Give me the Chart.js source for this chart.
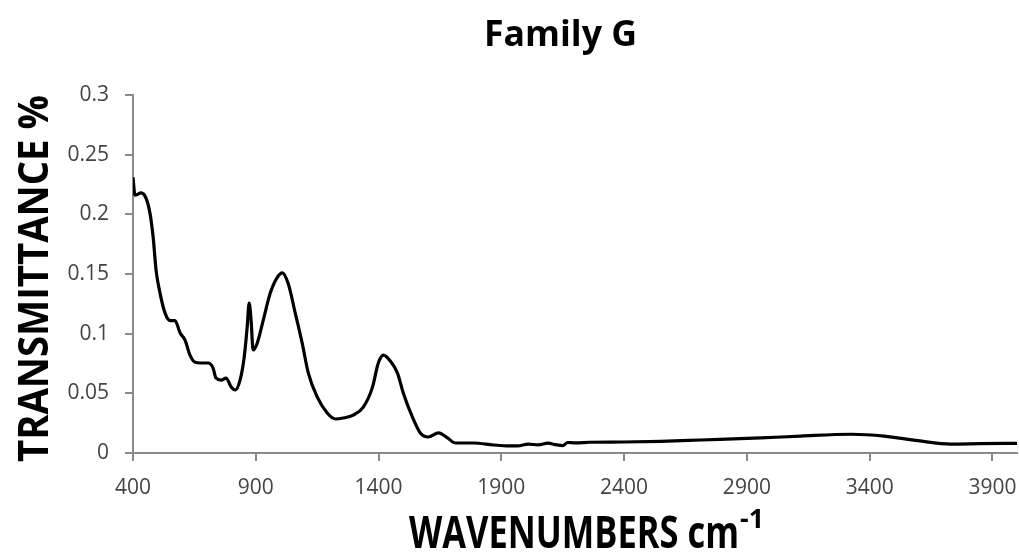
<!DOCTYPE html>
<html>
<head>
<meta charset="utf-8">
<script src="https://cdn.jsdelivr.net/npm/chart.js@4/dist/chart.umd.min.js"></script>
<style>
html,body{margin:0;padding:0;background:#fff;}
#wrap{width:1019px;height:553px;position:relative;}
</style>
</head>
<body>
<div id="wrap"><canvas id="c" width="1019" height="553"></canvas></div>
<script>
const chartTitle = "Family G";
const xTitle = "WAVENUMBERS cm";
const xTitleSup = "-1";
const yTitle = "TRANSMITTANCE %";

const wavenumbers = [400,408,433,453,469,482,494,510,531,551,571,592,612,632,653,677,706,726,738,759,779,800,816,836,853,865,873,881,889,906,930,959,987,1008,1032,1061,1089,1114,1150,1191,1224,1256,1297,1338,1375,1399,1420,1448,1477,1501,1538,1570,1603,1644,1681,1713,1787,1868,1920,1966,2010,2050,2090,2120,2150,2170,2200,2260,2398,2550,2712,2957,3120,3324,3459,3597,3732,3850,4000];
const transmittance = [0.231,0.216,0.218,0.2136,0.201,0.181,0.153,0.134,0.117,0.111,0.111,0.1005,0.0946,0.082,0.076,0.0754,0.0754,0.0712,0.0628,0.0611,0.0628,0.0553,0.0528,0.0611,0.0804,0.1055,0.1256,0.111,0.0863,0.0921,0.111,0.134,0.147,0.151,0.142,0.117,0.092,0.067,0.047,0.0335,0.0285,0.0293,0.0318,0.0385,0.055,0.0754,0.082,0.077,0.067,0.050,0.030,0.0168,0.0134,0.0168,0.0126,0.0084,0.0084,0.0067,0.0060,0.0059,0.0075,0.0068,0.0082,0.0070,0.0062,0.0088,0.0085,0.0090,0.0092,0.0098,0.0109,0.0126,0.0142,0.0157,0.0142,0.0103,0.0075,0.0078,0.0081];

const xTicks = [400,900,1400,1900,2400,2900,3400,3900];
const xTickLabels = ["400","900","1400","1900","2400","2900","3400","3900"];
const yTicks = [0,0.05,0.1,0.15,0.2,0.25,0.3];
const yTickLabels = ["0","0.05","0.1","0.15","0.2","0.25","0.3"];

const points = wavenumbers.map((x,i)=>({x:x,y:transmittance[i]}));

function drawFitted(ctx, text, font, x, y, targetW, align){
  ctx.save();
  ctx.font = font;
  const w = ctx.measureText(text).width;
  const s = targetW / w;
  ctx.translate(x, y);
  ctx.scale(s, 1);
  ctx.textAlign = align || 'left';
  ctx.textBaseline = 'alphabetic';
  ctx.fillText(text, 0, 0);
  ctx.restore();
}

const titlePlugin = {
  id: 'titles',
  afterDraw(chart){
    const ctx = chart.ctx;
    ctx.save();
    ctx.fillStyle = '#000';
    drawFitted(ctx, chartTitle, 'bold 36px "Open Sans"', 484, 46, 153, 'left');
    drawFitted(ctx, xTitle, 'bold 44px "Open Sans"', 409, 548, 330, 'left');
    drawFitted(ctx, xTitleSup, 'bold 27px "Open Sans"', 740, 528, 24, 'left');
    ctx.save();
    ctx.translate(48, 462);
    ctx.rotate(-Math.PI/2);
    drawFitted(ctx, yTitle, 'bold 42px "Open Sans"', 0, 0, 367, 'left');
    ctx.restore();
    ctx.restore();
  }
};

const axisGray = '#8a8a8a';
const tickFont = {family: '"Open Sans"', size: 21};

function labelFor(ticks, labels, v){
  const i = ticks.findIndex(t=>Math.abs(t-v)<1e-9);
  return i>=0 ? labels[i] : '';
}

new Chart(document.getElementById('c'), {
  type: 'line',
  data: {
    datasets: [{
      data: points,
      borderColor: '#000',
      borderWidth: 3.2,
      pointRadius: 0,
      fill: false,
      cubicInterpolationMode: 'monotone'
    }]
  },
  options: {
    responsive: false,
    animation: false,
    layout: {padding: {left: 0, right: 2, top: 95, bottom: 0}},
    plugins: {legend: {display: false}, tooltip: {enabled: false}, title: {display: false}},
    scales: {
      x: {
        type: 'linear',
        min: 400,
        max: 4000,
        afterBuildTicks(scale){ scale.ticks = xTicks.map(v=>({value:v})); },
        afterFit(scale){ scale.height = 100; scale.paddingLeft = 0; scale.paddingRight = 0; },
        ticks: {
          color: '#444', font: tickFont, padding: 14, maxRotation: 0, autoSkip: false,
          callback(v){ return labelFor(xTicks, xTickLabels, v); }
        },
        grid: {drawOnChartArea: false, drawTicks: true, tickLength: 8, color: axisGray, lineWidth: 2},
        border: {color: axisGray, width: 2}
      },
      y: {
        type: 'linear',
        min: 0,
        max: 0.3,
        afterBuildTicks(scale){ scale.ticks = yTicks.map(v=>({value:v})); },
        afterFit(scale){ scale.width = 133; scale.paddingTop = 0; scale.paddingBottom = 0; },
        ticks: {
          color: '#444', font: tickFont, padding: 16,
          callback(v){ return labelFor(yTicks, yTickLabels, v); }
        },
        grid: {drawOnChartArea: false, drawTicks: true, tickLength: 8, color: axisGray, lineWidth: 2},
        border: {color: axisGray, width: 2}
      }
    }
  },
  plugins: [titlePlugin]
});
</script>
</body>
</html>
